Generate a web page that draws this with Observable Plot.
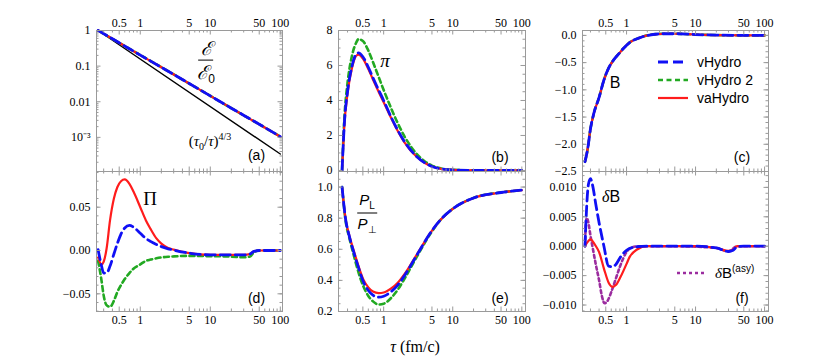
<!DOCTYPE html>
<html><head><meta charset="utf-8">
<script src="https://cdn.jsdelivr.net/npm/d3@7"></script>
<script src="https://cdn.jsdelivr.net/npm/@observablehq/plot@0.6"></script>
<style>
body{margin:0;background:#fff;}
#chart{position:relative;width:830px;height:357px;overflow:hidden;font-family:"Liberation Sans",Arial,sans-serif;color:#000;}
.lbl{position:absolute;white-space:nowrap;line-height:1;transform:translate(-50%,-50%);}
.frac{display:inline-flex;flex-direction:column;align-items:center;}
.frac .num{border-bottom:1.2px solid #000;padding:0 2px 2px 2px;}
.frac .den{padding-top:2px;}
.leg{position:absolute;font-size:14px;font-family:"Liberation Sans",Arial,sans-serif;line-height:1;white-space:nowrap;}
.leg span{white-space:nowrap;}
</style></head><body><div id="chart"></div>
<script>
// ---------- data ----------
const xTickValues = [0.5, 1, 5, 10, 50, 100];
const xTickLabels = ["0.5", "1", "5", "10", "50", "100"];

// (a) energy density ratio
const tauEps = [0.25, 0.5, 1, 2, 5, 10, 20, 50, 100];
const epsAll = [1, 0.452, 0.204, 0.0927, 0.0325, 0.0146, 0.0066, 0.00233, 0.00105];
const tauRef = [0.25, 100];
const epsRef = [1, 0.00034];
const yTicksA = [1, 0.1, 0.01, 0.001];
const yLabelsA = ["1", "0.1", "0.01", "10\u207B\u00B3"];

// (b) pi
const tauPi = [0.25, 0.27, 0.3, 0.35, 0.4, 0.43, 0.5, 0.6, 0.7, 0.8, 1, 1.3, 1.6, 2, 3, 4, 5, 7, 10, 20, 50, 100];
const piV   = [0, 2.7, 4.5, 6.0, 6.65, 6.72, 6.5, 5.9, 5.3, 4.8, 4.0, 3.0, 2.3, 1.65, 0.8, 0.42, 0.23, 0.08, 0.03, 0.005, 0, 0];
const piVa  = [0, 2.6, 4.4, 5.9, 6.55, 6.62, 6.4, 5.8, 5.2, 4.7, 3.9, 2.95, 2.25, 1.6, 0.78, 0.41, 0.22, 0.08, 0.03, 0.005, 0, 0];
const piV2  = [0, 3.0, 5.0, 6.6, 7.3, 7.5, 7.4, 6.85, 6.2, 5.6, 4.6, 3.5, 2.7, 1.95, 0.95, 0.5, 0.28, 0.1, 0.035, 0.005, 0, 0];
const yTicksB = [0, 2, 4, 6, 8];

// (c) B
const tauB = [0.25, 0.28, 0.294, 0.336, 0.4, 0.47, 0.55, 0.65, 0.77, 0.9, 1.14, 1.5, 2, 3.5, 5.5, 10, 20, 50, 100];
const bAll = [-2.32, -2.0, -1.79, -1.43, -1.14, -0.82, -0.6, -0.45, -0.34, -0.24, -0.12, -0.05, 0, 0.03, 0.03, 0.015, 0.006, 0.001, 0];
const yTicksC = [0, -0.5, -1, -1.5, -2, -2.5];

// (d) bulk Pi
const tauPiB = [0.25, 0.28, 0.3, 0.33, 0.37, 0.42, 0.47, 0.53, 0.6, 0.7, 0.8, 1, 1.2, 1.4, 1.7, 2, 2.5, 3, 5, 10, 20, 30, 37, 42, 50, 100];
const bulkVa = [-0.008, -0.016, -0.013, 0.002, 0.035, 0.06, 0.073, 0.08, 0.082, 0.077, 0.068, 0.05, 0.035, 0.025, 0.014, 0.008, 0.003, 0.001, -0.003, -0.005, -0.005, -0.005, -0.004, -0.001, 0, 0];
const bulkV  = [0.001, -0.018, -0.026, -0.026, -0.018, -0.004, 0.008, 0.019, 0.026, 0.029, 0.027, 0.02, 0.014, 0.0105, 0.007, 0.0045, 0.002, 0.0005, -0.003, -0.005, -0.005, -0.005, -0.004, -0.001, 0, 0];
const bulkV2 = [-0.012, -0.035, -0.052, -0.063, -0.065, -0.058, -0.048, -0.04, -0.033, -0.026, -0.021, -0.016, -0.012, -0.0105, -0.009, -0.008, -0.0072, -0.0068, -0.0062, -0.0065, -0.007, -0.0078, -0.007, -0.002, 0, 0];
const yTicksD = [-0.05, 0, 0.05];

// (e) PL / PT
const tauP = [0.25, 0.28, 0.32, 0.37, 0.42, 0.51, 0.6, 0.7, 0.85, 1, 1.3, 1.6, 2, 3, 5, 7, 10, 20, 50, 100];
const plV  = [1.0, 0.8, 0.68, 0.58, 0.5, 0.39, 0.335, 0.305, 0.292, 0.298, 0.33, 0.37, 0.43, 0.56, 0.72, 0.8, 0.86, 0.93, 0.965, 0.98];
const plVa = [1.0, 0.8, 0.685, 0.59, 0.51, 0.405, 0.355, 0.328, 0.318, 0.322, 0.35, 0.385, 0.44, 0.565, 0.72, 0.8, 0.86, 0.93, 0.965, 0.98];
const plV2 = [1.0, 0.79, 0.67, 0.56, 0.47, 0.36, 0.3, 0.265, 0.245, 0.25, 0.29, 0.34, 0.41, 0.55, 0.715, 0.8, 0.86, 0.93, 0.965, 0.98];
const yTicksE = [0.2, 0.4, 0.6, 0.8, 1.0];

// (f) delta B
const tauDB = [0.25, 0.26, 0.28, 0.3, 0.32, 0.36, 0.4, 0.47, 0.55, 0.63, 0.7, 0.82, 1, 1.1, 1.4, 2, 5, 10, 20, 30, 35, 40, 50, 100];
const dbV   = [0, 0.005, 0.0105, 0.0115, 0.0105, 0.007, 0.004, 0, -0.0034, -0.0035, -0.0031, -0.0018, -0.0007, -0.0004, -0.0001, 0, 0, 0, -0.0003, -0.0009, -0.0007, -0.0001, 0, 0];
const dbVa  = [0, 0.0004, 0.0009, 0.0012, 0.0009, 0, -0.001, -0.0038, -0.0062, -0.0069, -0.0066, -0.0052, -0.003, -0.0019, -0.0006, 0, 0, 0, -0.0003, -0.0008, -0.0006, 0, 0, 0];
const tauAsy = [0.25, 0.255, 0.265, 0.28, 0.3, 0.32, 0.36, 0.4, 0.44, 0.48, 0.53, 0.6, 0.7, 0.8, 1, 1.2, 1.5, 5, 20, 30, 40, 100];
const dbAsy  = [0, 0.003, 0.0048, 0.004, 0.0018, 0, -0.0032, -0.0058, -0.0085, -0.0097, -0.0093, -0.0078, -0.0055, -0.0035, -0.001, -0.0002, 0, 0, -0.0003, -0.0009, 0, 0];
const yTicksF = [-0.01, -0.005, 0, 0.005, 0.01];

const seriesNames = ["vHydro", "vHydro 2", "vaHydro"];

// ---------- styles ----------
const COL = {v: "#1010f5", v2: "#22a922", va: "#ff1c1c", asy: "#9b2c9f", ref: "#000"};
const STY = {
  v:  {stroke: COL.v,  strokeWidth: 2.8, strokeDasharray: "10,5"},
  v2: {stroke: COL.v2, strokeWidth: 2.6, strokeDasharray: "5,3.5"},
  va: {stroke: COL.va, strokeWidth: 2.2},
  asy:{stroke: COL.asy, strokeWidth: 2.6, strokeDasharray: "3,3"},
  ref:{stroke: COL.ref, strokeWidth: 1.4}
};
const chart = document.getElementById("chart");
const rows = (t, v) => t.map((d, i) => ({t: d, v: v[i]}));
const ln = (t, v, s) => Plot.line(rows(t, v), {x: "t", y: "v", curve: "monotone-x", ...STY[s]});

const gray = "#9a9a9a";
function minorLog(dom) {
  const out = [];
  for (let e = -1; e <= 2; e++) for (let m = 1; m <= 9; m++) {
    const v = m * Math.pow(10, e);
    if (v >= dom[0] && v <= dom[1]) out.push(+v.toPrecision(3));
  }
  return out;
}

function panel({left, top, w, h, xDomain, yType = "linear", yDomain, yTicks, yFmt, yMinor, row, marks}) {
  const mL = 44, mR = 6, mT = row === 0 ? 22 : 4, mB = row === 0 ? 4 : 22;
  const xMinor = minorLog(xDomain).filter(v => !xTickValues.includes(v));
  const L = 4.5, l = 2.5;
  const tk = [
    Plot.tickX(xTickValues, {x: d => d, insetTop: h - L, stroke: gray}),
    Plot.tickX(xTickValues, {x: d => d, insetBottom: h - L, stroke: gray}),
    Plot.tickX(xMinor, {x: d => d, insetTop: h - l, stroke: gray}),
    Plot.tickX(xMinor, {x: d => d, insetBottom: h - l, stroke: gray}),
    Plot.tickY(yTicks, {y: d => d, insetRight: w - L, stroke: gray}),
    Plot.tickY(yTicks, {y: d => d, insetLeft: w - L, stroke: gray}),
    Plot.tickY(yMinor, {y: d => d, insetRight: w - l, stroke: gray}),
    Plot.tickY(yMinor, {y: d => d, insetLeft: w - l, stroke: gray})
  ];
  const labels = [
    Plot.text(xTickValues, {x: d => d, text: (d, i) => xTickLabels[i], frameAnchor: row === 0 ? "top" : "bottom",
      lineAnchor: row === 0 ? "bottom" : "top", dy: row === 0 ? -4 : 4, fill: "#000"}),
    Plot.text(yTicks, {y: d => d, text: d => yFmt(d), frameAnchor: "left", textAnchor: "end", dx: -6, fill: "#000"})
  ];
  const svg = Plot.plot({
    width: w + mL + mR, height: h + mT + mB,
    marginLeft: mL, marginRight: mR, marginTop: mT, marginBottom: mB,
    style: {fontFamily: "'Liberation Serif', 'Times New Roman', serif", fontSize: "12px", color: "#000", background: "transparent", overflow: "visible"},
    x: {type: "log", domain: xDomain, axis: null},
    y: {type: yType, domain: yDomain, axis: null},
    marks: [...marks, ...tk, Plot.frame({stroke: gray}), ...labels]
  });
  svg.style.position = "absolute";
  svg.style.left = (left - mL) + "px";
  svg.style.top = (top - mT) + "px";
  chart.append(svg);
}

const dA = [0.237, 107.5], dB = [0.222, 113], dC = [0.23, 114];
const r = (a, b, s) => d3.range(a, b + s / 2, s).map(v => +v.toFixed(6));
const logMinorY = [];
for (let e = -4; e <= -1; e++) for (let m = 2; m <= 9; m++) { const v = m * Math.pow(10, e); if (v >= 1.1e-4 && v < 1) logMinorY.push(v); }

panel({left: 96, top: 30, w: 186, h: 141, xDomain: dA, yType: "log", yDomain: [1.1e-4, 1],
  yTicks: yTicksA, yFmt: d => yLabelsA[yTicksA.indexOf(d)], yMinor: logMinorY, row: 0,
  marks: [ln(tauRef, epsRef, "ref"), ln(tauEps, epsAll, "v2"), ln(tauEps, epsAll, "va"), ln(tauEps, epsAll, "v")]});

panel({left: 338, top: 30, w: 187, h: 141, xDomain: dB, yDomain: [-0.06, 8],
  yTicks: yTicksB, yFmt: d => String(d), yMinor: r(0, 8, 0.5).filter(v => v % 2 !== 0), row: 0,
  marks: [ln(tauPi, piV2, "v2"), ln(tauPi, piVa, "va"), ln(tauPi, piV, "v")]});

panel({left: 582, top: 30, w: 186, h: 141, xDomain: dC, yDomain: [-2.5, 0.09],
  yTicks: yTicksC, yFmt: d3.format(".1f"), yMinor: r(-2.5, 0, 0.1), row: 0,
  marks: [ln(tauB, bAll, "v2"), ln(tauB, bAll, "va"), ln(tauB, bAll, "v")]});

panel({left: 96, top: 171, w: 186, h: 140, xDomain: dA, yDomain: [-0.0704, 0.0912],
  yTicks: yTicksD, yFmt: d3.format(".2f"), yMinor: r(-0.07, 0.09, 0.01), row: 1,
  marks: [ln(tauPiB, bulkV2, "v2"), ln(tauPiB, bulkVa, "va"), ln(tauPiB, bulkV, "v")]});

panel({left: 338, top: 171, w: 187, h: 140, xDomain: dB, yDomain: [0.2, 1.1],
  yTicks: yTicksE, yFmt: d3.format(".1f"), yMinor: r(0.2, 1.1, 0.05), row: 1,
  marks: [ln(tauP, plV2, "v2"), ln(tauP, plVa, "va"), ln(tauP, plV, "v")]});

panel({left: 582, top: 171, w: 186, h: 140, xDomain: dC, yDomain: [-0.0111, 0.0127],
  yTicks: yTicksF, yFmt: d3.format(".3f"), yMinor: r(-0.011, 0.012, 0.001), row: 1,
  marks: [ln(tauAsy, dbAsy, "asy"), ln(tauDB, dbVa, "va"), ln(tauDB, dbV, "v")]});

// ---------- annotations ----------
function label(html, x, y, style) {
  const d = document.createElement("div");
  d.className = "lbl";
  d.style.left = x + "px"; d.style.top = y + "px";
  d.style.cssText += style || "";
  d.innerHTML = html;
  chart.append(d);
}
const sans = "font-family:'Liberation Sans',Arial,sans-serif;font-size:14px;";
const serif = "font-family:'Liberation Serif','Times New Roman',serif;";
label("(a)", 256.5, 155, sans);
label("(b)", 500, 156.5, sans);
label("(c)", 742, 156.5, sans);
label("(d)", 256.5, 298, sans);
label("(e)", 500, 298, sans);
label("(f)", 742, 298, sans);
label('<span class="frac"><span class="num">\u2130</span><span class="den">\u2130<sub style="font-size:12px;font-style:normal;font-family:Liberation Sans">0</sub></span></span>', 206, 62,
  "font-family:'DejaVu Serif',serif;font-style:italic;font-size:19px;");
label('(<i>\u03C4</i><sub style="font-size:10px">0</sub>/<i>\u03C4</i>)<sup style="font-size:10px">4/3</sup>', 210, 142, serif + "font-size:15px;");
label('<i>\u03C0</i>', 385, 60, serif + "font-size:19px;");
label('B', 615, 83, sans + "font-size:16px;");
label('\u03A0', 150, 198, serif + "font-size:19px;");
label('<span class="frac"><span class="num"><i>P</i><sub style="font-size:10px">L</sub></span><span class="den"><i>P</i><sub style="font-size:10px">\u22A5</sub></span></span>', 367, 213,
  "font-family:'Liberation Sans',Arial,sans-serif;font-size:15px;");
label('<i style="font-family:Liberation Serif">\u03B4</i>B', 611, 197, sans + "font-size:16px;");
label('<i>\u03C4</i> (fm/c)', 415, 347, serif + "font-size:16px;");

// legend (panel c)
const legItems = [["v", seriesNames[0]], ["v2", seriesNames[1]], ["va", seriesNames[2]]];
legItems.forEach(([k, name], i) => {
  const y = 61.5 + i * 18.3;
  const s = STY[k];
  const box = document.createElement("div");
  box.className = "leg";
  box.style.left = "658px"; box.style.top = (y - 8) + "px";
  box.innerHTML = `<svg width="30" height="16" style="vertical-align:middle"><line x1="0" y1="8" x2="30" y2="8" stroke="${s.stroke}" stroke-width="${s.strokeWidth}" ${s.strokeDasharray ? `stroke-dasharray="${s.strokeDasharray}"` : ""}/></svg><span style="position:absolute;left:39px;top:1px">${name}</span>`;
  chart.append(box);
});
// legend (panel f)
{
  const s = STY.asy;
  const box = document.createElement("div");
  box.className = "leg";
  box.style.left = "677px"; box.style.top = (273 - 8) + "px";
  box.innerHTML = `<svg width="30" height="16" style="vertical-align:middle"><line x1="0" y1="8" x2="30" y2="8" stroke="${s.stroke}" stroke-width="${s.strokeWidth}" stroke-dasharray="${s.strokeDasharray}"/></svg><span style="position:absolute;left:38px;top:-1px;font-size:15px;"><i style="font-family:Liberation Serif">\u03B4</i>B<sup style="font-size:10px">(asy)</sup></span>`;
  chart.append(box);
}
</script></body></html>
